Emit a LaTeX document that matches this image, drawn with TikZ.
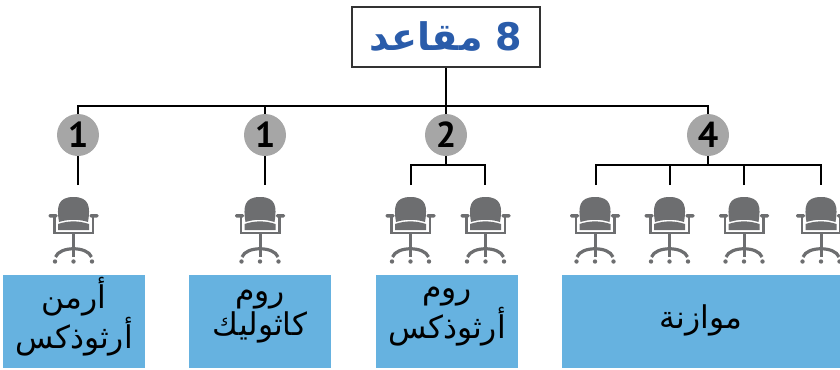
\documentclass[tikz,border=0pt]{standalone}
\usepackage{fontspec}
\usetikzlibrary{positioning,backgrounds}
\TeXXeTstate=1
\setmainfont{PT Sans}
\newfontfamily\arabicfont[Script=Arabic]{DejaVu Sans}
\newfontfamily\arabicbold[Script=Arabic]{DejaVu Sans Bold}
\newcommand{\artext}[1]{\arabicfont\beginR #1\endR}
\definecolor{boxblue}{HTML}{66B2E0}
\definecolor{titleblue}{HTML}{2A5CAA}
\definecolor{countgrey}{HTML}{A6A6A6}
\definecolor{chairgrey}{HTML}{6D6E70}
\tikzset{
	titlebox/.style={draw=black!80,line width=1.1pt,fill=white,minimum width=141pt,minimum height=45pt,inner sep=0pt,text=titleblue,font=\arabicbold\fontsize{28.5}{28.5}\selectfont},
	countnode/.style={circle,fill=countgrey,minimum size=31.5pt,inner sep=0pt,font=\bfseries\fontsize{27}{27}\selectfont},
	groupbox/.style={fill=boxblue,minimum height=69.75pt,inner sep=0pt,align=center,text depth=13pt,font=\fontsize{23.5}{26}\selectfont},
	wire/.style={line width=0.9pt},
	chair/.pic={
		\begin{scope}[chairgrey]
			\fill (-14.5,25) .. controls (-17,10) and (-16,0) .. (0,0) .. controls (16,0) and (17,10) .. (14.5,25) .. controls (5,22) and (-5,22) .. cycle;
			\fill (-15.5,27) .. controls (-5,23.5) and (5,23.5) .. (15.5,27) -- (15.5,33) -- (-15.5,33) -- cycle;
			\fill[rounded corners=1pt] (-25,17) rectangle (-16,20.5);
			\fill[rounded corners=1pt] (16,17) rectangle (25,20.5);
			\fill (-20.5,20) rectangle (-18,37);
			\fill (18,20) rectangle (20.5,37);
			\fill (-20.5,34.5) rectangle (20.5,37);
			\fill (-1.5,36) rectangle (1.5,60);
			\draw[line width=2.4pt] (-18,60) .. controls (-14,49) and (14,49) .. (18,60);
			\fill (-18.5,64.5) circle (2.2);
			\fill (0,64.5) circle (2.2);
			\fill (18.5,64.5) circle (2.2);
		\end{scope}
	}
}
\begin{document}
\begin{tikzpicture}[x=0.75pt,y=-0.75pt,on grid]
	\useasboundingbox (0,0) rectangle (840,369);
	\node[titlebox] (title) at (446,37) {\beginR 8 مقاعد\endR};
	\coordinate (bus) at (446,106);
	\node[countnode] (n1) at (78,135) {1};
	\node[countnode] (n2) [right=140.25pt of n1] {1};
	\node[countnode] (n3) [right=135.75pt of n2] {2};
	\node[countnode] (n4) [right=196.5pt of n3] {4};
	\coordinate (fork3) at (446,165);
	\coordinate (fork4) at (708,165);
	% seats
	\pic (c1) at (73.5,197) {chair};
	\pic (c2) at (260,197) {chair};
	\pic (c3) at (410.5,197) {chair};
	\pic (c4) at (485.5,197) {chair};
	\pic (c5) at (595,197) {chair};
	\pic (c6) at (669.5,197) {chair};
	\pic (c7) at (744,197) {chair};
	\pic (c8) at (821,197) {chair};
	\coordinate (e1) at (78,185);
	\coordinate (e2) at (265,185);
	\coordinate (e3) at (411,185);
	\coordinate (e4) at (485,185);
	\coordinate (e5) at (596,185);
	\coordinate (e6) at (670,185);
	\coordinate (e7) at (744,185);
	\coordinate (e8) at (821,185);
	% wires
	\begin{scope}[on background layer]
		\draw[wire] (title.south) -- (bus);
		\draw[wire] (e1) -- (n1.center) |- (bus) -| (n4.center);
		\draw[wire] (n2 |- bus) -- (e2);
		\draw[wire] (bus) -- (fork3);
		\draw[wire] (n4.center) -- (fork4);
		\draw[wire] (e3) |- (fork3) -| (e4);
		\draw[wire] (e5) |- (fork4) -| (e8);
		\draw[wire] (e6) -- (e6 |- fork4);
		\draw[wire] (e7) -- (e7 |- fork4);
	\end{scope}
	% groups
	\node[groupbox,minimum width=106.5pt] (g1) at (74,321.5) {\artext{أرمن}\\\artext{أرثوذكس}};
	\node[groupbox,minimum width=106.5pt] (g2) at (260,321.5) {\artext{روم}\\\artext{كاثوليك}};
	\node[groupbox,minimum width=106.5pt] (g3) at (447,321.5) {\artext{روم}\\\artext{أرثوذكس}};
	\node[groupbox,minimum width=208.5pt,text depth=8pt] (g4) at (701,321.5) {\artext{موازنة}};
\end{tikzpicture}
\end{document}
